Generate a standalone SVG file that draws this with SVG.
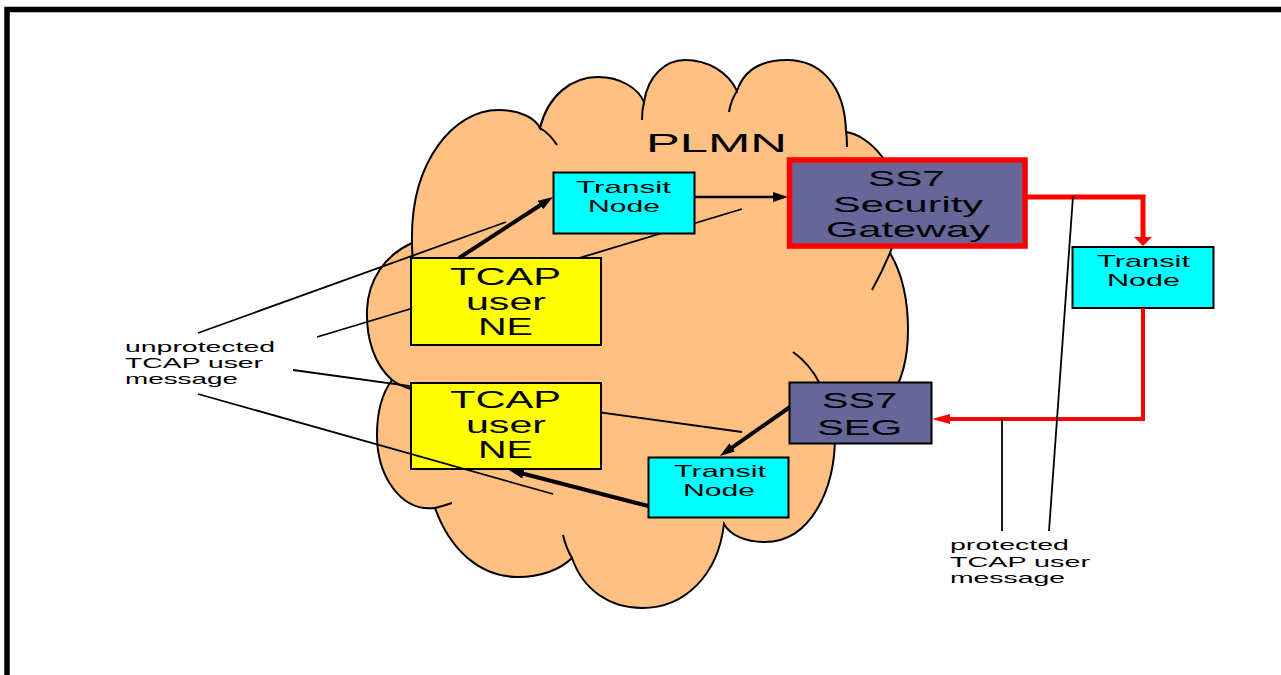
<svg xmlns="http://www.w3.org/2000/svg" width="1281" height="675" viewBox="0 0 1281 675">
<style>
text{font-family:"Liberation Sans",Arial,sans-serif;fill:#000}
.box{stroke:#000;stroke-width:2}
.cyan{fill:#00FFFF}
.yel{fill:#FFFF00}
.slate{fill:#666699}
.crease{fill:none;stroke:#000;stroke-width:2}
.ann{fill:none;stroke:#000;stroke-width:1.8}
.thick{fill:none;stroke:#000;stroke-width:4}
.thin{fill:none;stroke:#000;stroke-width:2.5}
.red{fill:none;stroke:#FF0000;stroke-linejoin:miter}
.big{font-size:24px}
.mid{font-size:22px}
.sm{font-size:17px}
.lbl{font-size:15px}
</style>
<defs>
<marker id="ah" markerUnits="userSpaceOnUse" markerWidth="15" markerHeight="10" viewBox="0 0 15 10" refX="3" refY="5" orient="auto"><path d="M0,0 L15,5 L0,10 z" fill="#000"/></marker>
<marker id="rdown" markerUnits="userSpaceOnUse" markerWidth="9" markerHeight="18" viewBox="0 0 9 18" refX="3" refY="9" orient="auto"><path d="M0,0 L9,9 L0,18 z" fill="#FF0000"/></marker>
<marker id="rleft" markerUnits="userSpaceOnUse" markerWidth="18" markerHeight="10" viewBox="0 0 18 10" refX="3" refY="5" orient="auto"><path d="M0,0 L18,5 L0,10 z" fill="#FF0000"/></marker>
</defs>
<rect x="0" y="0" width="1281" height="675" fill="#fff"/>
<rect id="frame" x="7" y="9.5" width="1300" height="700" fill="none" stroke="#000" stroke-width="5.5"/>

<g id="cloud">
<path fill="#FFC081" stroke="#000" stroke-width="2" d="M412,243 C410,160 455,110 498,110 C520,110 535,118 540,128 C548,95 572,77 598,77 C620,77 638,88 644,102 C648,76 665,60 685,60 C708,60 728,72 737,91 C744,70 762,60 787,60 C820,60 845,85 846,132 C870,135 900,170 900,205 C900,225 895,242 890,253 C903,275 908,300 908,330 C908,390 880,425 835,432 C836,490 810,542 765,542 C745,542 730,535 724,524 C718,575 685,608 642,608 C610,608 583,590 572,558 C560,570 540,577 518,577 C480,577 450,550 435,508 C400,512 377,475 377,435 C377,410 383,392 392,380 C375,365 366,340 367,310 C368,280 385,255 412,243 Z"/>
<path class="crease" d="M540,128 Q550,134 557,145"/>
<path class="crease" d="M412,243 Q412,252 413,260"/>
<path class="crease" d="M644,102 Q642,110 642,120"/>
<path class="crease" d="M737,91 Q731,100 729,112"/>
<path class="crease" d="M846,130 Q847,138 847,147"/>
<path class="crease" d="M890,253 Q882,272 872,290"/>
<path class="crease" d="M793,352 Q810,364 820,384"/>
<path class="crease" d="M572,558 Q566,548 563,535"/>
<path class="crease" d="M435,508 Q443,506 452,503"/>
<path class="crease" d="M392,380 Q400,386 411,389"/>
<text x="646" y="152" font-size="26" textLength="141" lengthAdjust="spacingAndGlyphs">PLMN</text>
</g>

<g id="annotations-under">
<line class="ann" x1="198" y1="333" x2="506" y2="222"/>
<line class="ann" x1="317" y1="337" x2="742" y2="209"/>
<line class="ann" x1="293" y1="370" x2="742" y2="432"/>
</g>

<g id="transit-top">
<rect class="box cyan" x="553.5" y="172.5" width="141" height="61"/>
<text class="sm" x="576" y="193" textLength="95" lengthAdjust="spacingAndGlyphs">Transit</text>
<text class="sm" x="588" y="212" textLength="72" lengthAdjust="spacingAndGlyphs">Node</text>
</g>

<g id="ss7-gateway">
<rect class="slate" x="789.5" y="160" width="235.5" height="86" stroke="#FF0000" stroke-width="5.5"/>
<text class="mid" x="868" y="186" textLength="77" lengthAdjust="spacingAndGlyphs">SS7</text>
<text class="mid" x="833" y="212" textLength="150" lengthAdjust="spacingAndGlyphs">Security</text>
<text class="mid" x="826" y="237" textLength="164" lengthAdjust="spacingAndGlyphs">Gateway</text>
</g>

<g id="tcap-upper">
<rect class="box yel" x="411" y="258" width="190" height="87"/>
<text class="big" x="450" y="285" textLength="111" lengthAdjust="spacingAndGlyphs">TCAP</text>
<text class="big" x="466" y="310" textLength="80" lengthAdjust="spacingAndGlyphs">user</text>
<text class="big" x="478" y="335" textLength="55" lengthAdjust="spacingAndGlyphs">NE</text>
</g>

<g id="tcap-lower">
<rect class="box yel" x="411" y="383" width="190" height="86"/>
<text class="big" x="450" y="408" textLength="111" lengthAdjust="spacingAndGlyphs">TCAP</text>
<text class="big" x="466" y="433" textLength="80" lengthAdjust="spacingAndGlyphs">user</text>
<text class="big" x="478" y="458" textLength="55" lengthAdjust="spacingAndGlyphs">NE</text>
</g>

<g id="ss7-seg">
<rect class="box slate" x="789.5" y="382.5" width="142" height="61"/>
<text class="mid" x="822" y="408" font-size="23" textLength="75" lengthAdjust="spacingAndGlyphs">SS7</text>
<text class="mid" x="817" y="435" font-size="23" textLength="85" lengthAdjust="spacingAndGlyphs">SEG</text>
</g>

<g id="transit-lower">
<rect class="box cyan" x="648.5" y="457.5" width="140" height="60"/>
<text class="sm" x="674" y="477" textLength="92" lengthAdjust="spacingAndGlyphs">Transit</text>
<text class="sm" x="683" y="496" textLength="72" lengthAdjust="spacingAndGlyphs">Node</text>
</g>

<g id="transit-right">
<rect class="box cyan" x="1072.5" y="247" width="141" height="61"/>
<text class="sm" x="1097" y="267" textLength="93" lengthAdjust="spacingAndGlyphs">Transit</text>
<text class="sm" x="1107" y="286" textLength="73" lengthAdjust="spacingAndGlyphs">Node</text>
</g>

<g id="connectors">
<line class="thick" x1="459" y1="258" x2="542.9" y2="203.5" marker-end="url(#ah)"/>
<line class="thin" x1="695" y1="197" x2="776" y2="197" marker-end="url(#ah)"/>
<path class="red" stroke-width="5" d="M1027,197 H1143 V240" marker-end="url(#rdown)"/>
<path class="red" stroke-width="4" d="M1143,308 V419 H947" marker-end="url(#rleft)"/>
<line class="thick" x1="790" y1="407" x2="729.8" y2="449.1" marker-end="url(#ah)"/>
<line class="thick" x1="648" y1="506" x2="520.6" y2="473" marker-end="url(#ah)"/>
</g>

<g id="annotations-over">
<line class="ann" x1="198" y1="394" x2="553" y2="494"/>
<line class="ann" x1="1002" y1="419" x2="1002" y2="531"/>
<line class="ann" x1="1073" y1="196" x2="1049" y2="531"/>
</g>

<g id="label-unprotected">
<text class="lbl" x="125" y="352" textLength="150" lengthAdjust="spacingAndGlyphs">unprotected</text>
<text class="lbl" x="125" y="368" textLength="138" lengthAdjust="spacingAndGlyphs">TCAP user</text>
<text class="lbl" x="125" y="384" textLength="113" lengthAdjust="spacingAndGlyphs">message</text>
</g>

<g id="label-protected">
<text class="lbl" x="950" y="550" textLength="119" lengthAdjust="spacingAndGlyphs">protected</text>
<text class="lbl" x="950" y="567" textLength="140" lengthAdjust="spacingAndGlyphs">TCAP user</text>
<text class="lbl" x="950" y="583" textLength="115" lengthAdjust="spacingAndGlyphs">message</text>
</g>
</svg>
